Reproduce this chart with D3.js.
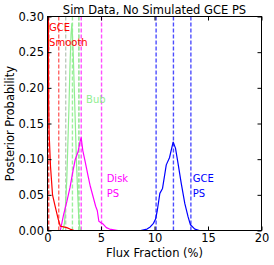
<!DOCTYPE html>
<html>
<head>
<meta charset="utf-8">
<script src="https://cdn.jsdelivr.net/npm/d3@7"></script>
<style>
  html, body { margin: 0; padding: 0; background: #fff; }
  svg { display: block; font-family: "DejaVu Sans", sans-serif; }
</style>
</head>
<body>
<svg id="chart" width="274" height="265"></svg>
<script>
// ---- data ----
const title = "Sim Data, No Simulated GCE PS";
const xLabel = "Flux Fraction (%)";
const yLabel = "Posterior Probability";
const xTicks = [0, 5, 10, 15, 20];
const yTicks = [0.00, 0.05, 0.10, 0.15, 0.20, 0.25, 0.30];

const smoothX = [0.0, 0.03, 0.1, 0.15, 0.28, 0.47, 0.7, 1.0, 1.2, 1.5, 1.8, 2.1, 2.5, 3.0];
const smoothY = [0.60, 0.60, 0.185, 0.137, 0.09, 0.05, 0.035, 0.016, 0.006, 0.005, 0.004, 0.002, 0.0, 0.0];

const bubX = [0.0, 1.4, 1.5, 1.6, 1.8, 2.0, 2.1, 2.2, 2.28, 2.4, 2.5, 2.6, 2.7, 2.8, 2.9, 3.0, 3.1, 6.0];
const bubY = [0.0, 0.0, 0.003, 0.012, 0.07, 0.17, 0.23, 0.275, 0.29, 0.25, 0.2, 0.15, 0.1, 0.06, 0.025, 0.006, 0.0, 0.0];

const diskX = [0.0, 1.2, 1.5, 1.8, 2.1, 2.4, 2.6, 2.85, 3.05, 3.15, 3.3, 3.5, 3.8, 4.0, 4.25, 4.5, 4.65, 4.8, 5.0, 5.2, 5.5, 5.8, 6.2, 6.6, 8.0];
const diskY = [0.0, 0.0, 0.022, 0.04, 0.06, 0.085, 0.1, 0.11, 0.125, 0.13, 0.112, 0.098, 0.076, 0.062, 0.048, 0.034, 0.028, 0.013, 0.011, 0.009, 0.004, 0.002, 0.001, 0.0, 0.0];

const gcePSX = [6.0, 8.7, 9.3, 9.6, 9.9, 10.1, 10.25, 10.5, 10.75, 11.1, 11.4, 11.74, 11.96, 12.2, 12.5, 12.83, 13.14, 13.36, 13.77, 14.2, 15.0];
const gcePSY = [0.0, 0.0, 0.002, 0.005, 0.010, 0.016, 0.027, 0.052, 0.059, 0.092, 0.102, 0.124, 0.1155, 0.094, 0.066, 0.038, 0.019, 0.008, 0.002, 0.0, 0.0];

// quantile lines (16%, 50%, 84%)
const smoothQ = [0.03, 0.12, 1.05];
const bubQ = [1.7, 2.33, 2.93];
const diskQ = [3.15, 5.05];
const gcePSQ = [10.15, 11.77, 13.4];

const labels = [
  { lines: ["GCE", "Smooth"], x: 0.15, y: 0.279, color: "#ff0000" },
  { lines: ["Bub"], x: 3.6, y: 0.179, color: "#90ee90" },
  { lines: ["Disk", "PS"], x: 5.53, y: 0.0685, color: "#ff00ff" },
  { lines: ["GCE", "PS"], x: 13.57, y: 0.0685, color: "#0000ff" }
];

// ---- layout ----
const L = 47.5, R = 261.5, T = 16.5, B = 230.5;
const svg = d3.select("#chart");

const x = d3.scaleLinear().domain([0, 20]).range([L, R]);
const y = d3.scaleLinear().domain([0, 0.30]).range([B, T]);

svg.append("defs").append("clipPath").attr("id", "clip")
  .append("rect").attr("x", L).attr("y", T).attr("width", R - L).attr("height", B - T);

const plot = svg.append("g").attr("clip-path", "url(#clip)");

function vlines(vals, color, opacity) {
  plot.selectAll(null).data(vals).enter().append("line")
    .attr("x1", d => x(d)).attr("x2", d => x(d))
    .attr("y1", T).attr("y2", B)
    .attr("stroke", color).attr("stroke-width", 1.4)
    .attr("stroke-opacity", opacity)
    .attr("stroke-dasharray", "4,2");
}
vlines(smoothQ, "#ff0000", 0.6);
vlines([bubQ[0], bubQ[2]], "#a8b8a8", 0.75);
vlines([bubQ[1], bubQ[2]], "#90ee90", 0.9);
vlines(diskQ, "#ff00ff", 0.7);
vlines(gcePSQ, "#0000ff", 0.7);

const line = d3.line().x(d => x(d[0])).y(d => y(d[1]));
function curve(xs, ys, color) {
  plot.append("path").datum(xs.map((v, i) => [v, ys[i]]))
    .attr("d", line).attr("fill", "none")
    .attr("stroke", color).attr("stroke-width", 1.2)
    .attr("stroke-linejoin", "round");
}
curve(bubX, bubY, "#90ee90");
curve(diskX, diskY, "#ff00ff");
curve(gcePSX, gcePSY, "#0000ff");
curve(smoothX, smoothY, "#ff0000");

// labels
labels.forEach(lb => {
  lb.lines.forEach((t, i) => {
    svg.append("text").attr("x", x(lb.x)).attr("y", y(lb.y) + i * 15)
      .attr("fill", lb.color).attr("font-size", "10px").text(t);
  });
});

// frame
svg.append("rect").attr("x", L).attr("y", T).attr("width", R - L).attr("height", B - T)
  .attr("fill", "none").attr("stroke", "#000").attr("stroke-width", 1);

// axes with inward ticks
const fmt = d3.format(".2f");
const axL = svg.append("g").attr("transform", `translate(${L},0)`)
  .call(d3.axisLeft(y).tickValues(yTicks).tickFormat(fmt).tickSizeInner(-4).tickSizeOuter(0).tickPadding(3.5));
const axR = svg.append("g").attr("transform", `translate(${R},0)`)
  .call(d3.axisRight(y).tickValues(yTicks).tickFormat("").tickSizeInner(-4).tickSizeOuter(0));
const axB = svg.append("g").attr("transform", `translate(0,${B})`)
  .call(d3.axisBottom(x).tickValues(xTicks).tickFormat(d3.format("d")).tickSizeInner(-4).tickSizeOuter(0).tickPadding(3.5));
const axT = svg.append("g").attr("transform", `translate(0,${T})`)
  .call(d3.axisTop(x).tickValues(xTicks).tickFormat("").tickSizeInner(-4).tickSizeOuter(0));
[axL, axR, axB, axT].forEach(a => {
  a.select(".domain").remove();
  a.selectAll("text").attr("font-family", "DejaVu Sans, sans-serif").attr("font-size", "11.5px").attr("fill", "#000");
  a.selectAll("line").attr("stroke", "#000");
});

// titles
svg.append("text").attr("x", (L + R) / 2).attr("y", 13.5).attr("text-anchor", "middle")
  .attr("font-size", "11.5px").attr("fill", "#000").text(title);
svg.append("text").attr("x", (L + R) / 2).attr("y", 256.5).attr("text-anchor", "middle")
  .attr("font-size", "11.5px").attr("fill", "#000").text(xLabel);
svg.append("text").attr("transform", `translate(14,${(T + B) / 2}) rotate(-90)`)
  .attr("text-anchor", "middle").attr("font-size", "11.5px").attr("fill", "#000").text(yLabel);
</script>
</body>
</html>
